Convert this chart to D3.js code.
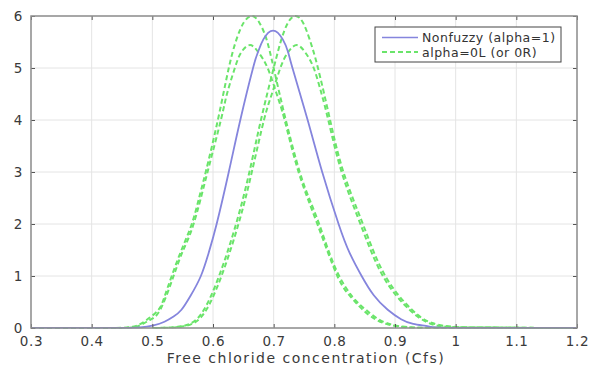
<!DOCTYPE html>
<html>
<head>
<meta charset="utf-8">
<script src="https://cdn.jsdelivr.net/npm/d3@7"></script>
<style>
body { margin: 0; background: #fff; }
text { font-family: "DejaVu Sans", sans-serif; }
</style>
</head>
<body>
<div id="chart"></div>
<script>
// tick values
var xTicks = [0.3, 0.4, 0.5, 0.6, 0.7, 0.8, 0.9, 1.0, 1.1, 1.2];
var yTicks = [0, 1, 2, 3, 4, 5, 6];

// nonfuzzy curve (alpha=1)
var nonfuzzyX = [0.30, 0.45, 0.48, 0.502, 0.52, 0.535, 0.548, 0.563, 0.580, 0.593, 0.606, 0.626, 0.645, 0.666, 0.674, 0.683, 0.699, 0.715, 0.724, 0.731, 0.756, 0.780, 0.807, 0.825, 0.845, 0.865, 0.888, 0.91, 0.93, 0.955, 1.0, 1.2];
var nonfuzzyY = [0, 0, 0.01, 0.05, 0.12, 0.22, 0.35, 0.62, 1.0, 1.45, 2.0, 3.0, 4.0, 5.0, 5.3, 5.55, 5.72, 5.55, 5.3, 5.0, 4.0, 3.0, 2.0, 1.45, 1.0, 0.63, 0.35, 0.17, 0.08, 0.03, 0, 0];

// alpha=0L / 0R bounds (four dashed curves)
var lowTallX = [0.30, 0.44, 0.47, 0.49, 0.51, 0.52, 0.532, 0.548, 0.565, 0.577, 0.588, 0.608, 0.626, 0.639, 0.651, 0.664, 0.676, 0.688, 0.700, 0.720, 0.743, 0.760, 0.775, 0.790, 0.808, 0.830, 0.852, 0.885, 0.93, 1.0, 1.2];
var lowTallY = [0, 0, 0.03, 0.15, 0.35, 0.6, 1.0, 1.5, 2.0, 2.5, 3.0, 4.0, 5.0, 5.56, 5.88, 6.0, 5.88, 5.56, 5.0, 4.0, 3.0, 2.45, 2.0, 1.5, 1.0, 0.6, 0.35, 0.1, 0.01, 0.005, 0];

var lowShortX = [0.30, 0.445, 0.475, 0.495, 0.513, 0.535, 0.551, 0.568, 0.591, 0.613, 0.623, 0.636, 0.6465, 0.661, 0.675, 0.690, 0.705, 0.718, 0.741, 0.772, 0.805, 0.827, 0.847, 0.88, 0.925, 1.0, 1.2];
var lowShortY = [0, 0, 0.03, 0.15, 0.35, 1.0, 1.5, 2.0, 3.0, 4.0, 4.5, 5.0, 5.3, 5.44, 5.3, 5.0, 4.5, 4.0, 3.0, 2.0, 1.0, 0.6, 0.35, 0.1, 0.01, 0.005, 0];

var highTallX = [0.30, 0.50, 0.54, 0.565, 0.585, 0.61, 0.638, 0.660, 0.679, 0.700, 0.713, 0.724, 0.736, 0.748, 0.759, 0.773, 0.793, 0.815, 0.847, 0.884, 0.928, 0.96, 1.0, 1.05, 1.1, 1.2];
var highTallY = [0, 0, 0.02, 0.1, 0.35, 1.0, 2.0, 3.0, 4.0, 5.0, 5.56, 5.88, 6.0, 5.88, 5.56, 5.0, 4.0, 3.0, 2.0, 1.0, 0.35, 0.1, 0.02, 0.01, 0.003, 0];

var highShortX = [0.30, 0.505, 0.545, 0.569, 0.589, 0.614, 0.642, 0.664, 0.684, 0.697, 0.711, 0.7235, 0.738, 0.752, 0.766, 0.779, 0.790, 0.812, 0.843, 0.880, 0.924, 0.955, 0.99, 1.05, 1.1, 1.2];
var highShortY = [0, 0, 0.02, 0.1, 0.35, 1.0, 2.0, 3.0, 4.0, 4.5, 5.0, 5.3, 5.44, 5.3, 5.0, 4.5, 4.0, 3.0, 2.0, 1.0, 0.35, 0.1, 0.02, 0.01, 0.003, 0];

var margin = {top: 16, right: 15, bottom: 44, left: 31},
    width = 592 - margin.left - margin.right,
    height = 372 - margin.top - margin.bottom;

var svg = d3.select("#chart")
    .append("svg")
    .attr("width", 592)
    .attr("height", 372)
    .append("g")
    .attr("transform", "translate(" + margin.left + "," + margin.top + ")");

svg.append("clipPath")
    .attr("id", "plot-clip")
    .append("rect")
    .attr("y", -2)
    .attr("width", width)
    .attr("height", height + 2.5);

var x = d3.scaleLinear().domain([0.3, 1.2]).range([0, width]);
var y = d3.scaleLinear().domain([0, 6]).range([height, 0]);

// grid
svg.append("g").selectAll("line")
    .data(xTicks)
    .enter().append("line")
    .attr("x1", d => x(d)).attr("x2", d => x(d))
    .attr("y1", 0).attr("y2", height)
    .attr("stroke", "#e4e4e4");
svg.append("g").selectAll("line")
    .data(yTicks)
    .enter().append("line")
    .attr("x1", 0).attr("x2", width)
    .attr("y1", d => y(d)).attr("y2", d => y(d))
    .attr("stroke", "#e4e4e4");

function pairs(xs, ys) { return xs.map((v, i) => [v, ys[i]]); }

var greenSeries = [
    pairs(lowTallX, lowTallY),
    pairs(lowShortX, lowShortY),
    pairs(highTallX, highTallY),
    pairs(highShortX, highShortY)
];

// natural spline for the bell part, flat zero run drawn separately on the left
var smooth = d3.line()
    .x(d => x(d[0]))
    .y(d => y(d[1]))
    .curve(d3.curveNatural);

function curvePath(d) {
    return smooth(d.filter(p => p[0] >= 0.42)) + "M" + x(0.3) + "," + y(0) + "H" + x(0.45);
}

var plot = svg.append("g").attr("clip-path", "url(#plot-clip)");
plot.selectAll(".green")
    .data(greenSeries)
    .enter().append("path")
    .attr("class", "green")
    .attr("d", curvePath)
    .attr("fill", "none")
    .attr("stroke", "#6ae46a")
    .attr("stroke-width", 2)
    .attr("stroke-dasharray", "5,3");

plot.append("path")
    .datum(pairs(nonfuzzyX, nonfuzzyY))
    .attr("d", curvePath)
    .attr("fill", "none")
    .attr("stroke", "#8585dd")
    .attr("stroke-width", 1.8);

// axes
var fmt = d => String(+d.toFixed(1));

var xAxis = svg.append("g")
    .attr("transform", "translate(0," + height + ")")
    .call(d3.axisBottom(x).tickValues(xTicks).tickSize(-4).tickPadding(8).tickFormat(fmt));
var yAxis = svg.append("g")
    .call(d3.axisLeft(y).tickValues(yTicks).tickSize(-4).tickPadding(8).tickFormat(fmt));
var xTop = svg.append("g")
    .call(d3.axisTop(x).tickValues(xTicks).tickSize(-4).tickFormat(""));
var yRight = svg.append("g")
    .attr("transform", "translate(" + width + ",0)")
    .call(d3.axisRight(y).tickValues(yTicks).tickSize(-4).tickFormat(""));

[xAxis, yAxis, xTop, yRight].forEach(function(a) {
    a.select(".domain").remove();
    a.selectAll(".tick line").attr("stroke", "#555");
    a.selectAll("text")
        .attr("fill", "#3a3a3a")
        .style("font-size", "13.5px")
        .style("letter-spacing", "0.6px");
});

svg.append("rect")
    .attr("width", width)
    .attr("height", height)
    .attr("fill", "none")
    .attr("stroke", "#8f8f8f")
    .attr("stroke-width", 1.5);

// x axis title
svg.append("text")
    .attr("x", width / 2 + 2)
    .attr("y", height + 35)
    .attr("text-anchor", "middle")
    .attr("fill", "#3a3a3a")
    .style("font-size", "14px")
    .style("letter-spacing", "1.5px")
    .text("Free chloride concentration (Cfs)");

// legend
var legendItems = [
    {label: "Nonfuzzy (alpha=1)", color: "#8585dd", dash: null},
    {label: "alpha=0L (or 0R)", color: "#6ae46a", dash: "5,3"}
];
var legend = svg.append("g")
    .attr("transform", "translate(" + (375 - margin.left) + "," + (27 - margin.top) + ")");
legend.append("rect")
    .attr("width", 186)
    .attr("height", 35)
    .attr("fill", "#fff")
    .attr("stroke", "#444")
    .attr("stroke-width", 1);
var rows = legend.selectAll(".row")
    .data(legendItems)
    .enter().append("g")
    .attr("transform", (d, i) => "translate(0," + (10.5 + i * 14.5) + ")");
rows.append("line")
    .attr("x1", 7).attr("x2", 43)
    .attr("stroke", d => d.color)
    .attr("stroke-width", d => d.dash ? 1.8 : 1.6)
    .attr("stroke-dasharray", d => d.dash);
rows.append("text")
    .attr("x", 47)
    .attr("y", 4.5)
    .attr("fill", "#333")
    .style("font-size", "12.5px")
    .style("letter-spacing", "0.5px")
    .text(d => d.label);
</script>
</body>
</html>
